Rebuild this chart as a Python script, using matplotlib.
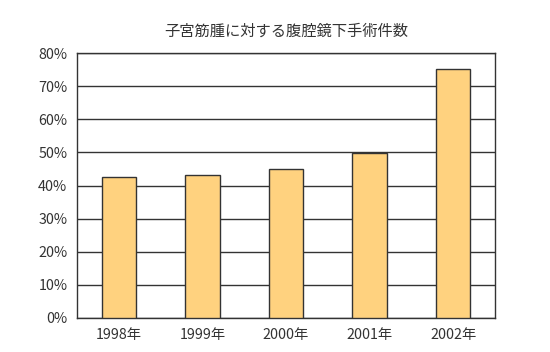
import matplotlib
matplotlib.use('Agg')
import matplotlib.pyplot as plt
from matplotlib.ticker import FuncFormatter

plt.rcParams['font.family'] = ['Noto Sans CJK JP', 'DejaVu Sans']

# data
years = ['1998年', '1999年', '2000年', '2001年', '2002年']
ratios = [42.5, 43.1, 44.9, 49.8, 75.2]
title = '子宮筋腫に対する腹腔鏡下手術件数'

fig = plt.figure(figsize=(5.5, 3.52), dpi=100)
ax = fig.add_axes([0.14, 0.097, 0.76, 0.752])

ax.set_axisbelow(True)
ax.yaxis.grid(True, color='#333333', linewidth=1.0)
ax.bar(range(len(years)), ratios, width=0.41, color='#FFD27F',
       edgecolor='#333333', linewidth=1.0, zorder=3)

ax.set_xlim(-0.5, len(years) - 0.5)
ax.set_ylim(0, 80)
ax.set_yticks(range(0, 81, 10))
ax.yaxis.set_major_formatter(FuncFormatter(lambda v, p: '%d%%' % v))
ax.set_xticks(range(len(years)))
ax.set_xticklabels(years)
ax.tick_params(length=0, labelsize=10.3, colors='#333333', pad=7)
for s in ax.spines.values():
    s.set_color('#333333')
    s.set_linewidth(1.0)

fig.text(0.52, 0.912, title, ha='center', va='center', fontsize=11,
         color='#333333')

fig.savefig('out.png', dpi=100)
